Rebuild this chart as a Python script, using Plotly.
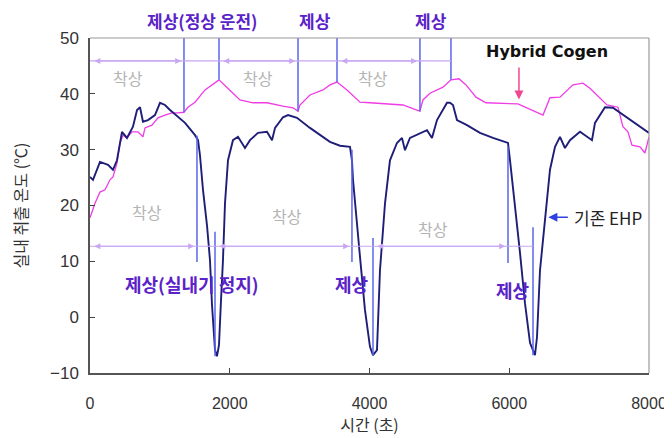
import plotly.graph_objects as go

# ---- data: time (s) and outlet temperature (°C) ----
cogen_t = [0, 72, 143, 215, 286, 329, 386, 429, 472, 529, 601, 687, 758, 787, 887, 973,
           1073, 1173, 1259, 1345, 1402, 1503, 1646, 1789, 1846, 2046, 2147, 2333, 2533,
           2762, 2905, 2977, 3005, 3148, 3334, 3434, 3535, 3678, 3864, 4007, 4479, 4679,
           4722, 4765, 4866, 5052, 5166, 5281, 5381, 5524, 5667, 6125, 6483, 6583, 6726,
           6912, 7055, 7155, 7399, 7556, 7627, 7699, 7756, 7871, 7942, 8000]
cogen_v = [17.8, 20.4, 22.4, 22.8, 24.6, 25.1, 27.6, 31.2, 32.6, 32.1, 33.2, 33.2, 32.3,
           33.9, 34.4, 35.7, 36.2, 36.6, 36.6, 36.7, 37.6, 38.5, 40.7, 41.9, 42.5, 40.1,
           38.9, 38.4, 38.4, 37.8, 37.5, 36.9, 38.0, 39.8, 40.7, 41.6, 42.1, 40.7, 38.5,
           38.4, 38.0, 37.1, 36.9, 38.9, 40.1, 41.2, 42.5, 42.7, 41.6, 39.4, 38.4, 38.2,
           36.2, 39.3, 39.4, 41.6, 41.9, 41.0, 38.0, 37.6, 34.1, 33.2, 30.8, 30.5, 29.4, 32.3]

ehp_t = [0, 43, 143, 258, 329, 386, 458, 529, 615, 673, 716, 758, 830, 930, 1002, 1073,
         1145, 1259, 1360, 1503, 1546, 1574, 1617, 1674, 1717, 1746, 1789, 1817, 1846,
         1875, 1903, 1932, 1975, 2046, 2118, 2218, 2290, 2404, 2533, 2605, 2648, 2762,
         2834, 2962, 3148, 3434, 3578, 3721, 3749, 3764, 3821, 3864, 3935, 4007, 4050,
         4107, 4150, 4222, 4293, 4393, 4465, 4508, 4579, 4722, 4823, 4894, 4966, 5109,
         5152, 5195, 5252, 5395, 5581, 5767, 5939, 5982, 6011, 6082, 6154, 6225, 6297,
         6368, 6397, 6440, 6511, 6583, 6655, 6726, 6797, 6869, 7012, 7184, 7227, 7370,
         7484, 7685, 7871, 8000]
ehp_v = [25.1, 24.6, 27.8, 27.3, 26.4, 28.1, 33.2, 32.1, 34.1, 37.1, 37.6, 35.0, 35.3,
         36.2, 38.4, 38.0, 37.1, 35.8, 34.8, 32.6, 31.7, 29.0, 22.8, 16.5, 10.2, 2.2,
         -5.9, -7.0, -5.0, 3.1, 10.2, 20.4, 28.1, 31.7, 32.3, 30.3, 31.7, 33.0, 33.2,
         31.7, 33.9, 35.8, 36.2, 35.7, 33.9, 31.4, 30.7, 30.5, 28.1, 24.6, 17.4, 10.8,
         1.3, -5.3, -6.8, -5.9, 8.4, 20.4, 28.1, 31.2, 32.1, 29.9, 32.1, 33.0, 33.5,
         32.1, 35.3, 38.4, 38.4, 38.0, 35.3, 34.4, 33.0, 32.1, 31.4, 31.2, 28.1, 20.4,
         11.5, 2.5, -4.6, -6.8, -3.6, 8.4, 17.4, 26.4, 30.5, 32.3, 30.3, 31.7, 33.2,
         31.7, 34.8, 37.6, 37.5, 35.7, 34.1, 33.0]

# defrost markers (Hybrid Cogen, upper) : time, lower end of marker
defrost_top_t = [1345, 1846, 2977, 3535, 4722, 5166]
defrost_top_lo = [36.7, 42.5, 36.9, 42.1, 36.9, 42.5]
defrost_top_hi = [50, 50, 50, 50, 50, 50]
# defrost markers (conventional EHP, lower)
defrost_low_t = [1531, 1789, 3749, 4050, 5982, 6340]
defrost_low_lo = [9.9, -7.0, 9.9, -6.8, 9.7, -6.8]
defrost_low_hi = [32.5, 15.3, 30.0, 14.2, 30.5, 16.1]

# frost periods (double arrows)
frost_top_y = 45.9
frost_top_seg = [(0, 1345), (1846, 2977), (3535, 4722)]
frost_top_end = 5166
frost_low_y = 12.7
frost_low_seg = [(0, 1531), (1789, 3749), (4050, 5982)]
frost_low_end = 6340

frost_label = "착상"
frost_top_lbl_t = [544, 2404, 4050]
frost_top_lbl_v = [42.8, 42.8, 42.8]
frost_low_lbl_t = [816, 2819, 4908]
frost_low_lbl_v = [18.8, 18.2, 15.8]

defrost_labels = ["제상(정상 운전)", "제상", "제상", "제상(실내기 정지)", "제상", "제상"]
defrost_lbl_t = [1603, 3220, 4880, 1460, 3750, 6050]
defrost_lbl_v = [53.1, 53.1, 53.1, 6.0, 6.0, 4.8]

x_ticks = [0, 2000, 4000, 6000, 8000]
y_ticks = [-10, 0, 10, 20, 30, 40, 50]
Y_MIN, Y_MAX = -10, 50

PINK = "#f03ce6"
NAVY = "#1e1e78"
MARK = "#5a66ea"
ARROW = "#c8a6f2"
PURPLE = "#5a22c8"
GRAY = "#b4b4b4"
KFONT = "Noto Sans CJK KR"

fig = go.Figure()
fig.add_trace(go.Scatter(x=cogen_t, y=cogen_v, mode="lines", name="Hybrid Cogen",
                         line=dict(color=PINK, width=1.3)))
fig.add_trace(go.Scatter(x=ehp_t, y=ehp_v, mode="lines", name="기존 EHP",
                         line=dict(color=NAVY, width=1.9)))

shapes = []
for t, lo, hi in zip(defrost_top_t, defrost_top_lo, defrost_top_hi):
    shapes.append(dict(type="line", xref="x", yref="y", x0=t, x1=t, y0=lo, y1=hi,
                       line=dict(color=MARK, width=1.5)))
for t, lo, hi in zip(defrost_low_t, defrost_low_lo, defrost_low_hi):
    shapes.append(dict(type="line", xref="x", yref="y", x0=t, x1=t, y0=lo, y1=hi,
                       line=dict(color=MARK, width=1.5)))
# thin connecting frost lines
shapes.append(dict(type="line", xref="x", yref="y", x0=0, x1=frost_top_end,
                   y0=frost_top_y, y1=frost_top_y, line=dict(color=ARROW, width=1.2)))
shapes.append(dict(type="line", xref="x", yref="y", x0=0, x1=frost_low_end,
                   y0=frost_low_y, y1=frost_low_y, line=dict(color=ARROW, width=1.2)))
# frame top / right (light gray)
shapes.append(dict(type="line", xref="paper", yref="paper", x0=0, x1=1, y0=1, y1=1,
                   line=dict(color="#9a9a9a", width=1.2)))
shapes.append(dict(type="line", xref="paper", yref="paper", x0=1, x1=1, y0=0, y1=1,
                   line=dict(color="#9a9a9a", width=1.2)))

ann = []
for segs, yv in ((frost_top_seg, frost_top_y), (frost_low_seg, frost_low_y)):
    for a, b in segs:
        ann.append(dict(x=b - 40, y=yv, ax=a + 40, ay=yv, xref="x", yref="y",
                        axref="x", ayref="y", showarrow=True, arrowhead=2,
                        arrowside="end+start", arrowsize=1, arrowwidth=1.2,
                        arrowcolor=ARROW, text=""))
for t, v in zip(frost_top_lbl_t, frost_top_lbl_v):
    ann.append(dict(x=t, y=v, xref="x", yref="y", text=frost_label, showarrow=False,
                    xanchor="center", yanchor="middle",
                    font=dict(family=KFONT, size=16, color=GRAY)))
for t, v in zip(frost_low_lbl_t, frost_low_lbl_v):
    ann.append(dict(x=t, y=v, xref="x", yref="y", text=frost_label, showarrow=False,
                    xanchor="center", yanchor="middle",
                    font=dict(family=KFONT, size=16, color=GRAY)))
for s, t, v in zip(defrost_labels, defrost_lbl_t, defrost_lbl_v):
    if v > Y_MAX:
        yref, yy, fs = "paper", (v - Y_MIN) / (Y_MAX - Y_MIN), 17
    else:
        yref, yy, fs = "y", v, 18
    ann.append(dict(x=t, y=yy, xref="x", yref=yref, text="<b>" + s + "</b>",
                    showarrow=False, xanchor="center", yanchor="middle",
                    font=dict(family=KFONT, size=fs, color=PURPLE)))

# series callouts
ann.append(dict(x=6540, y=47.5, xref="x", yref="y", text="<b>Hybrid Cogen</b>",
                showarrow=False, xanchor="center", yanchor="middle",
                font=dict(family="DejaVu Sans", size=16, color="#111")))
ann.append(dict(x=6139, y=39.0, ax=6139, ay=45.0, xref="x", yref="y", axref="x",
                ayref="y", showarrow=True, arrowhead=2, arrowsize=1.2, arrowwidth=1.5,
                arrowcolor="#f04890", text=""))
ann.append(dict(x=7420, y=17.9, xref="x", yref="y", text="기존 EHP", showarrow=False,
                xanchor="center", yanchor="middle",
                font=dict(family=KFONT, size=17, color="#222")))
ann.append(dict(x=6560, y=17.9, ax=6860, ay=17.9, xref="x", yref="y", axref="x",
                ayref="y", showarrow=True, arrowhead=2, arrowsize=1.2, arrowwidth=1.5,
                arrowcolor="#3040e0", text=""))

# the page body adds an 8px margin, so the figure is 8px smaller than the window
fig.update_layout(
    width=664, height=430, autosize=False,
    margin=dict(l=82, r=23, t=30, b=65, autoexpand=False),
    paper_bgcolor="white", plot_bgcolor="white",
    showlegend=False,
    shapes=shapes, annotations=ann,
    font=dict(family="Liberation Sans", color="#222"),
)
fig.update_xaxes(range=[0, 8000], tickvals=x_ticks, ticks="inside", ticklen=5,
                 tickcolor="#444", showline=True, linecolor="#555", linewidth=1.5,
                 showgrid=False, zeroline=False, ticklabelstandoff=15, automargin=False,
                 tickfont=dict(size=16, color="#333"),
                 title=dict(text="시간 (초)", font=dict(family=KFONT, size=16, color="#333"),
                            standoff=0))
fig.update_yaxes(range=[Y_MIN, Y_MAX], tickvals=y_ticks, ticks="inside", ticklen=5,
                 tickcolor="#444", showline=True, linecolor="#555", linewidth=1.5,
                 showgrid=False, zeroline=False, ticklabelstandoff=6, automargin=False,
                 tickfont=dict(size=17, color="#333"),
                 title=dict(text="실내 취출 온도 (℃)",
                            font=dict(family=KFONT, size=16, color="#333"), standoff=20))

fig.write_html("out.html")
